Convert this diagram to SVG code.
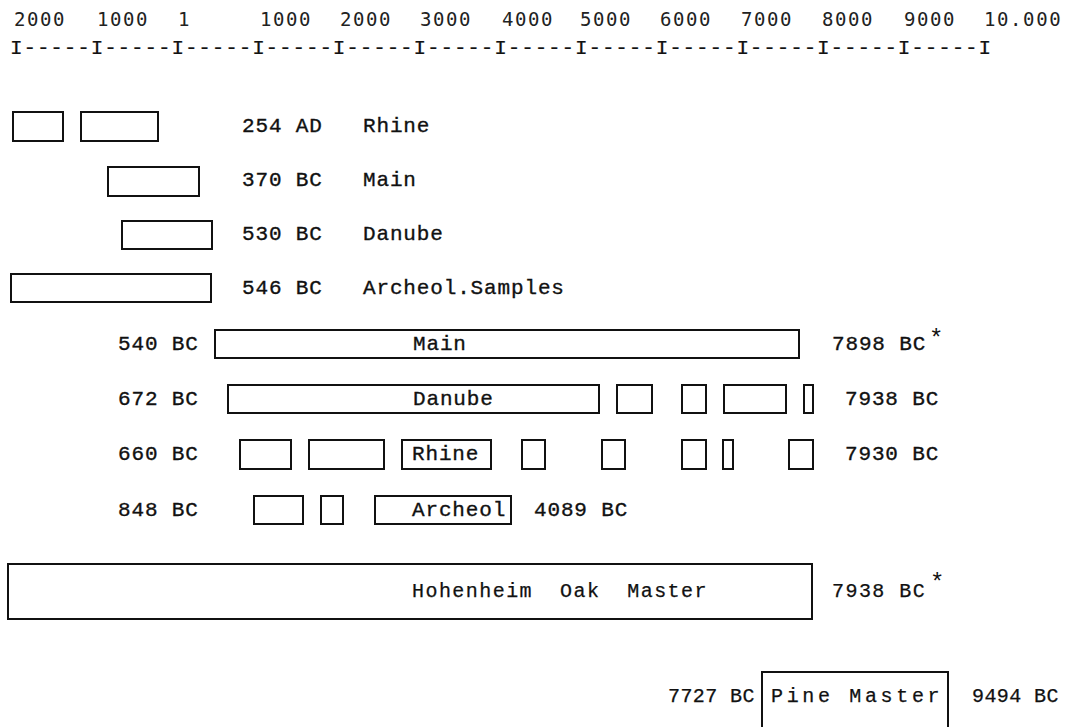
<svg xmlns="http://www.w3.org/2000/svg" width="1071" height="727" viewBox="0 0 1071 727">
<style>
.t{font-family:"Liberation Mono","Courier New",monospace;font-size:21px;letter-spacing:0.85px;fill:#111;stroke:#111;stroke-width:0.35;white-space:pre}
.ax{font-family:"DejaVu Sans Mono","Liberation Mono",monospace;font-size:19px;letter-spacing:1.6px;fill:#222}
.c{font-family:"Liberation Mono","Courier New",monospace;font-size:20px;letter-spacing:1.45px;fill:#111;stroke:#111;stroke-width:0.25;white-space:pre}
.st{font-family:"Liberation Mono",monospace;font-size:24px;fill:#111}
rect{fill:none;stroke:#111;stroke-width:2}
</style>
<rect x="0" y="0" width="1071" height="727" style="fill:#fff;stroke:none"/>
<g id="axis">
<text class="ax" x="14" y="26">2000</text>
<text class="ax" x="97" y="26">1000</text>
<text class="ax" x="178" y="26">1</text>
<text class="ax" x="260" y="26">1000</text>
<text class="ax" x="340" y="26">2000</text>
<text class="ax" x="420" y="26">3000</text>
<text class="ax" x="502" y="26">4000</text>
<text class="ax" x="580" y="26">5000</text>
<text class="ax" x="660" y="26">6000</text>
<text class="ax" x="741" y="26">7000</text>
<text class="ax" x="822" y="26">8000</text>
<text class="ax" x="904" y="26">9000</text>
<text class="ax" x="984" y="26">10.000</text>
<text class="t" x="10" y="54" style="stroke-width:0.2">I-----I-----I-----I-----I-----I-----I-----I-----I-----I-----I-----I-----I</text>
</g>
<g id="row-rhine-ad">
<rect x="13" y="112" width="50" height="29"/>
<rect x="81" y="112" width="77" height="29"/>
<text class="t" x="242" y="132">254 AD</text>
<text class="t" x="363" y="132">Rhine</text>
</g>
<g id="row-main-bc">
<rect x="108" y="167" width="91" height="29"/>
<text class="t" x="242" y="186">370 BC</text>
<text class="t" x="363" y="186">Main</text>
</g>
<g id="row-danube-bc">
<rect x="122" y="221" width="90" height="28"/>
<text class="t" x="242" y="240">530 BC</text>
<text class="t" x="363" y="240">Danube</text>
</g>
<g id="row-archeol-samples">
<rect x="11" y="274" width="200" height="28"/>
<text class="t" x="242" y="294">546 BC</text>
<text class="t" x="363" y="294">Archeol.Samples</text>
</g>
<g id="main">
<text class="t" x="118" y="350">540 BC</text>
<rect x="215" y="330" width="584" height="28"/>
<text class="t" x="413" y="350">Main</text>
<text class="t" x="832" y="350">7898 BC</text>
<text class="st" x="929" y="346">*</text>
</g>
<g id="danube">
<text class="t" x="118" y="405">672 BC</text>
<rect x="228" y="385" width="371" height="28"/>
<text class="t" x="413" y="405">Danube</text>
<rect x="617" y="385" width="35" height="28"/>
<rect x="682" y="385" width="24" height="28"/>
<rect x="724" y="385" width="62" height="28"/>
<rect x="804" y="385" width="9" height="28"/>
<text class="t" x="845" y="405">7938 BC</text>
</g>
<g id="rhine">
<text class="t" x="118" y="460">660 BC</text>
<rect x="240" y="440" width="51" height="29"/>
<rect x="309" y="440" width="75" height="29"/>
<rect x="402" y="440" width="89" height="29"/>
<text class="t" x="412" y="460">Rhine</text>
<rect x="522" y="440" width="23" height="29"/>
<rect x="602" y="440" width="23" height="29"/>
<rect x="682" y="440" width="24" height="29"/>
<rect x="723" y="440" width="10" height="29"/>
<rect x="789" y="440" width="24" height="29"/>
<text class="t" x="845" y="460">7930 BC</text>
</g>
<g id="archeol">
<text class="t" x="118" y="516">848 BC</text>
<rect x="254" y="496" width="49" height="28"/>
<rect x="321" y="496" width="22" height="28"/>
<rect x="375" y="496" width="136" height="28"/>
<text class="t" x="412" y="516">Archeol</text>
<text class="t" x="534" y="516">4089 BC</text>
</g>
<g id="hohenheim-oak-master">
<rect x="8" y="564" width="804" height="55"/>
<text class="c" x="412" y="597">Hohenheim  Oak  Master</text>
<text class="c" x="832" y="597">7938 BC</text>
<text class="st" x="930" y="590">*</text>
</g>
<g id="pine-master">
<text class="c" x="668" y="702" textLength="88" lengthAdjust="spacing">7727 BC</text>
<rect x="762" y="672" width="186" height="70"/>
<text class="c" x="771" y="702" textLength="170" lengthAdjust="spacing">Pine Master</text>
<text class="c" x="972" y="702" textLength="88" lengthAdjust="spacing">9494 BC</text>
</g>
<g id="connectors"></g>
</svg>
